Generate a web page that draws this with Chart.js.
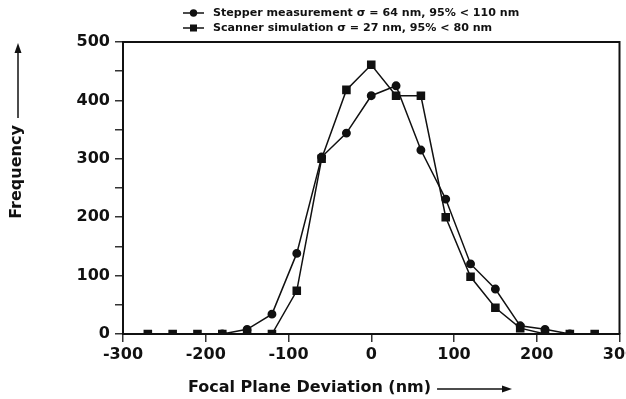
<!DOCTYPE html>
<html lang="en">
<head>
    <meta charset="UTF-8">
    <title>Focal Plane Deviation</title>
    <style>
        body { margin: 0; background: #fff; }
        #chartBox { width: 626px; height: 399px; }
    </style>
</head>
<body>
    <div id="chartBox">
        <canvas id="focusChart" width="626" height="399"></canvas>
    </div>
<script src="https://cdn.jsdelivr.net/npm/chart.js"></script>
<script>
    // focal plane deviation (nm) of each bin
    const deviation = [-270, -240, -210, -180, -150, -120, -90, -60, -30, 0, 30, 60, 90, 120, 150, 180, 210, 240, 270];
    // frequencies
    const stepperFreq = [null, null, null, 0, 8, 34, 138, 303, 344, 408, 425, 315, 231, 120, 77, 14, 8, 0, null];
    const scannerFreq = [0, 0, 0, 0, 0, 0, 74, 300, 418, 461, 408, 408, 200, 98, 45, 10, 0, 0, 0];
    const seriesNames = [
        'Stepper measurement \u03C3 = 64 nm, 95% < 110 nm',
        'Scanner simulation \u03C3 = 27 nm, 95% < 80 nm'
    ];
    const xTitle = 'Focal Plane Deviation (nm)';
    const yTitle = 'Frequency';

    const ink = '#111';
    const fontFamily = '"DejaVu Sans", "Liberation Sans", sans-serif';

    function toPoints(values) {
        return deviation.map((x, i) => ({ x: x, y: values[i] }));
    }

    function arrow(ctx, x1, y1, x2, y2) {
        const ang = Math.atan2(y2 - y1, x2 - x1);
        const len = 10, half = 3.5;
        ctx.beginPath();
        ctx.moveTo(x1, y1);
        ctx.lineTo(x2 - Math.cos(ang) * len, y2 - Math.sin(ang) * len);
        ctx.stroke();
        ctx.beginPath();
        ctx.moveTo(x2, y2);
        ctx.lineTo(x2 - Math.cos(ang) * len - Math.sin(ang) * half, y2 - Math.sin(ang) * len + Math.cos(ang) * half);
        ctx.lineTo(x2 - Math.cos(ang) * len + Math.sin(ang) * half, y2 - Math.sin(ang) * len - Math.cos(ang) * half);
        ctx.closePath();
        ctx.fill();
    }

    // frame, legend and axis titles with their arrows
    const decorations = {
        id: 'decorations',
        afterDraw(chart) {
            const ctx = chart.ctx;
            const area = chart.chartArea;
            ctx.save();
            ctx.strokeStyle = ink;
            ctx.fillStyle = ink;

            // top and right edges of the box
            ctx.lineWidth = 2;
            ctx.beginPath();
            ctx.moveTo(area.left, area.top);
            ctx.lineTo(area.right, area.top);
            ctx.lineTo(area.right, area.bottom);
            ctx.stroke();

            // legend
            ctx.font = 'bold 11.1px ' + fontFamily;
            ctx.textBaseline = 'middle';
            ctx.textAlign = 'left';
            chart.data.datasets.forEach((ds, i) => {
                const y = 13 + i * 15;
                ctx.lineWidth = 1.5;
                ctx.beginPath();
                ctx.moveTo(183, y);
                ctx.lineTo(204, y);
                ctx.stroke();
                if (ds.pointStyle === 'rect') {
                    ctx.fillRect(190, y - 3.5, 7, 7);
                } else {
                    ctx.beginPath();
                    ctx.arc(193.5, y, 3.7, 0, Math.PI * 2);
                    ctx.fill();
                }
                ctx.fillText(ds.label, 213, y + 0.5);
            });

            // x title
            ctx.font = 'bold 16px ' + fontFamily;
            ctx.fillText(xTitle, 188, 388);
            const w = ctx.measureText(xTitle).width;
            ctx.lineWidth = 1.5;
            arrow(ctx, 188 + w + 6, 389, 512, 389);

            // y title
            ctx.save();
            ctx.translate(17, 172);
            ctx.rotate(-Math.PI / 2);
            ctx.textAlign = 'center';
            ctx.fillText(yTitle, 0, 0);
            ctx.restore();
            arrow(ctx, 18, 118, 18, 43);

            ctx.restore();
        }
    };

    const ctx = document.getElementById('focusChart').getContext('2d');
    const focusChart = new Chart(ctx, {
        type: 'line',
        data: {
            datasets: [{
                label: seriesNames[0],
                data: toPoints(stepperFreq),
                borderColor: ink,
                backgroundColor: ink,
                borderWidth: 1.5,
                pointStyle: 'circle',
                pointRadius: 3.7,
                pointHoverRadius: 3.7,
                tension: 0
            }, {
                label: seriesNames[1],
                data: toPoints(scannerFreq),
                borderColor: ink,
                backgroundColor: ink,
                borderWidth: 1.5,
                pointStyle: 'rect',
                pointRadius: 5,
                pointHoverRadius: 5,
                tension: 0
            }]
        },
        options: {
            responsive: false,
            animation: false,
            layout: { padding: { top: 42, right: 6, left: 0, bottom: 0 } },
            plugins: {
                legend: { display: false },
                tooltip: { enabled: false }
            },
            scales: {
                x: {
                    type: 'linear',
                    min: -300,
                    max: 300,
                    afterFit(scale) {
                        scale.height = 65;
                        scale.paddingLeft = 0;
                        scale.paddingRight = 0;
                    },
                    ticks: {
                        stepSize: 100,
                        color: ink,
                        padding: 3,
                        maxRotation: 0,
                        font: { family: fontFamily, size: 16, weight: 'bold' }
                    },
                    grid: {
                        drawOnChartArea: false,
                        tickLength: 8,
                        color: '#333',
                        lineWidth: 1.5
                    },
                    border: { color: ink, width: 2 }
                },
                y: {
                    min: 0,
                    max: 500,
                    afterFit(scale) {
                        scale.width = 123;
                    },
                    ticks: {
                        stepSize: 50,
                        color: ink,
                        padding: 5,
                        font: { family: fontFamily, size: 16, weight: 'bold' },
                        callback: (v) => (v % 100 === 0 ? v : '')
                    },
                    grid: {
                        drawOnChartArea: false,
                        tickLength: 8,
                        color: '#333',
                        lineWidth: 1.5
                    },
                    border: { color: ink, width: 2 }
                }
            }
        },
        plugins: [decorations]
    });
</script>
</body>
</html>
